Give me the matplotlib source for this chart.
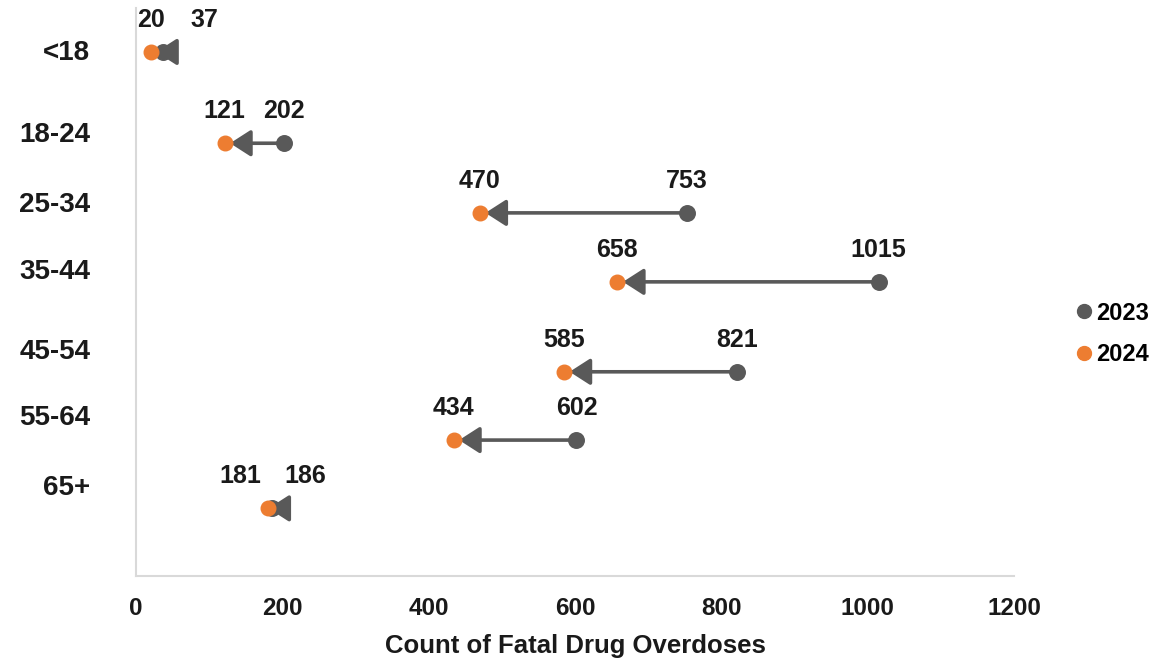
import matplotlib.pyplot as plt
from matplotlib.lines import Line2D

plt.rcParams['font.family'] = ['Liberation Sans', 'DejaVu Sans']
plt.rcParams['font.weight'] = 'bold'

# data
age_groups = ['<18', '18-24', '25-34', '35-44', '45-54', '55-64', '65+']
deaths_2023 = [37, 202, 753, 1015, 821, 602, 186]
deaths_2024 = [20, 121, 470, 658, 585, 434, 181]

# layout: row positions of the points and of the group labels (from the original sheet)
row_y = [7.75, 6.4, 5.37, 4.35, 3.02, 2.01, 1.0]
label_y = [7.74, 6.52, 5.49, 4.50, 3.31, 2.34, 1.30]
# horizontal nudges (points) for the value labels of rows where the dots overlap
nudge_2023 = [30, 0, 0, 0, 0, 0, 24]
nudge_2024 = [0, 0, 0, 0, 0, 0, -20]

GREY = '#595959'
ORANGE = '#ED7D31'
TXT = '#1a1a1a'

fig = plt.figure(figsize=(11.63, 6.64), dpi=100)
ax = fig.add_axes([136 / 1163, 1 - 576 / 664, (1014 - 136) / 1163, (576 - 8) / 664])

ax.scatter(deaths_2023, row_y, s=125, color=GREY, zorder=3)

for x0, x1, y in zip(deaths_2023, deaths_2024, row_y):
    ax.annotate('', xy=(x1, y), xytext=(x0, y),
                arrowprops=dict(arrowstyle='-|>,head_length=0.7,head_width=0.45',
                                color=GREY, lw=2.6, shrinkA=0, shrinkB=4,
                                mutation_scale=18),
                zorder=4)

ax.scatter(deaths_2024, row_y, s=110, color=ORANGE, zorder=5)

for i, y in enumerate(row_y):
    ax.annotate(str(deaths_2023[i]), xy=(deaths_2023[i], y),
                xytext=(nudge_2023[i], 23), textcoords='offset points',
                ha='center', va='center', fontsize=18, fontweight='bold', color=TXT)
    ax.annotate(str(deaths_2024[i]), xy=(deaths_2024[i], y),
                xytext=(nudge_2024[i], 23), textcoords='offset points',
                ha='center', va='center', fontsize=18, fontweight='bold', color=TXT)

for name, y in zip(age_groups, label_y):
    ax.text(-0.052, y, name, transform=ax.get_yaxis_transform(),
            ha='right', va='center', fontsize=20, fontweight='bold', color=TXT)

ax.set_xlim(0, 1200)
ax.set_ylim(0, 8.4)
ax.set_xticks(range(0, 1201, 200))
ax.set_yticks([])
ax.tick_params(axis='x', length=0, pad=15, labelsize=17.5, labelcolor=TXT)
for lab in ax.get_xticklabels():
    lab.set_fontweight('bold')
ax.set_xlabel('Count of Fatal Drug Overdoses', fontsize=18.5, fontweight='bold',
              color=TXT, labelpad=10)

for side in ['top', 'right']:
    ax.spines[side].set_visible(False)
for side in ['left', 'bottom']:
    ax.spines[side].set_color('#D9D9D9')
    ax.spines[side].set_linewidth(1.5)

handles = [Line2D([], [], marker='o', ls='', color=GREY, markersize=10, label='2023'),
           Line2D([], [], marker='o', ls='', color=ORANGE, markersize=10, label='2024')]
fig.legend(handles=handles, loc='center left', bbox_to_anchor=(1077 / 1163, 1 - 334 / 664),
           frameon=False, borderpad=0, borderaxespad=0, handlelength=0.6,
           handletextpad=0.2, labelspacing=0.8,
           prop={'weight': 'bold', 'size': 17})

fig.savefig('out.png', dpi=100)
